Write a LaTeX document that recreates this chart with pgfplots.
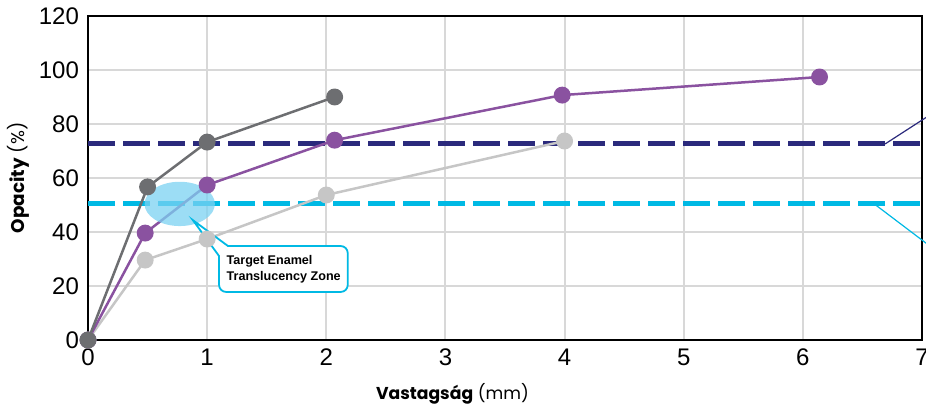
\documentclass[border=0pt]{standalone}
\usepackage{pgfplots}
\pgfplotsset{compat=1.18}
\usepackage{fontspec}
\setmainfont{Liberation Sans}
\newfontfamily\pop{Poppins}
\definecolor{darkgr}{HTML}{6D6E71}
\definecolor{purp}{HTML}{8A52A0}
\definecolor{lightgr}{HTML}{C6C6C6}
\definecolor{navy}{HTML}{2B2A7C}
\definecolor{cyanl}{HTML}{00B9E4}
\definecolor{ellf}{HTML}{7BD2F2}
\definecolor{gridc}{HTML}{D8D8D8}

\begin{document}
\begin{tikzpicture}
\begin{axis}[scale only axis, width=417pt, height=162pt,
    xmin=0, xmax=7, ymin=0, ymax=120,
    xtick={0,1,2,3,4,5,6,7}, ytick={0,20,40,60,80,100,120},
    grid=major, major grid style={gridc, line width=1pt},
    axis line style={black, line width=1.4pt},
    tick style={draw=none},
    clip=false,
    /pgf/number format/assume math mode=true,
    ticklabel style={font=\fontsize{12}{14}\selectfont},
    xticklabel style={yshift=-1pt},
    yticklabel style={xshift=-1pt},
    xlabel={{\bfseries Vastagság} (mm)},
    xlabel style={font=\pop\fontsize{8.6}{10}\selectfont, at={(rel axis cs:0.437,0)}, anchor=north, yshift=-18pt},
    ylabel={{\bfseries Opacity} (\%)},
    ylabel style={font=\pop\fontsize{9.2}{11}\selectfont, yshift=-2pt},
  ]
  \coordinate (O) at (rel axis cs:0,0);
  \coordinate (T) at (rel axis cs:1,1);
  % target lines
  \addplot[navy, line width=2.5pt, dash pattern=on 13.5pt off 4pt] coordinates {(0,72.6) (7,72.6)};
  \addplot[cyanl, line width=2.5pt, dash pattern=on 13.5pt off 4pt] coordinates {(0,50.4) (7,50.4)};
  \addplot[navy, line width=0.6pt] coordinates {(6.69,72.6) (7.3,90)};
  \addplot[cyanl, line width=0.6pt] coordinates {(6.59,50.7) (7.3,27)};
  % series
  \addplot[lightgr, line width=1.25pt, mark=*, mark size=3.6pt, mark options={fill=lightgr, draw=none}]
    coordinates {(0,0) (0.48,29.6) (1,37.4) (2,53.7) (4,73.7)};
  \addplot[purp, line width=1.25pt, mark=*, mark size=3.6pt, mark options={fill=purp, draw=none}]
    coordinates {(0,0) (0.48,39.6) (1,57.4) (2.07,74) (3.98,90.7) (6.14,97.4)};
  \addplot[darkgr, line width=1.25pt, mark=*, mark size=3.6pt, mark options={fill=darkgr, draw=none}]
    coordinates {(0,0) (0.5,56.7) (1,73.3) (2.07,90)};
  % zone
  \fill[ellf, fill opacity=0.75] (axis cs:0.77,50.4) ellipse [x radius=0.295, y radius=8.2];
  \draw[cyanl, line width=0.9pt, fill=white]
    (axis cs:0.88,44.4) -- (axis cs:1.175,34.8)
    [rounded corners=3.5pt] -- (axis cs:2.18,34.8) -- (axis cs:2.18,17.8) -- (axis cs:1.10,17.8)
    [sharp corners] -- (axis cs:1.10,31.1) -- cycle;
  \node[anchor=west, align=left, font=\bfseries\fontsize{6.3}{8.4}\selectfont, inner sep=0pt]
    at (axis cs:1.16,26.2) {Target Enamel\\Translucency Zone};
\end{axis}
\pgfresetboundingbox
\useasboundingbox ([xshift=-44pt,yshift=-32pt]O) rectangle ([xshift=2pt,yshift=8pt]T);
\end{tikzpicture}
\end{document}
